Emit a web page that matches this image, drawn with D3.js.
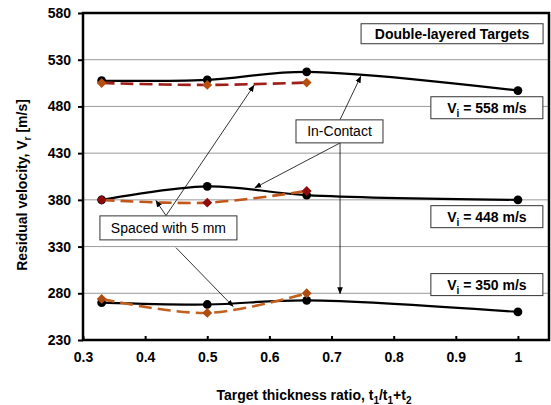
<!DOCTYPE html>
<html>
<head>
<meta charset="utf-8">
<script src="https://cdn.jsdelivr.net/npm/d3@7"></script>
<style>
  body { margin: 0; background: #fff; }
  svg text { font-family: Arial, "Liberation Sans", sans-serif; }
  .tick-label { font-size: 14px; font-weight: bold; }
  .title { font-size: 14px; font-weight: bold; }
  .grid line { stroke: #9a9a9a; stroke-width: 1; }
  .note rect { fill: #fff; stroke: #333; stroke-width: 1; }
  .arrow { stroke: #000; stroke-width: 0.8; fill: none; }
</style>
</head>
<body>
<svg id="chart" width="551" height="405"></svg>
<script>
// thickness ratio t1/(t1+t2)
const ratios = [0.33, 0.5, 0.66, 1];
const ratiosSpaced = [0.33, 0.5, 0.66];

// residual velocity, in-contact targets
const contact558 = [507.5, 508.5, 517, 497];
const contact448 = [380, 394.5, 385, 380];
const contact350 = [270, 268, 272.5, 260];

// residual velocity, spaced with 5 mm
const spaced558 = [505, 503, 505.5];
const spaced448 = [380, 377, 389.5];
const spaced350 = [274, 259, 280];

const xTicks = [0.3, 0.4, 0.5, 0.6, 0.7, 0.8, 0.9, 1];
const yTicks = [230, 280, 330, 380, 430, 480, 530, 580];

const margin = {top: 13, right: 2, bottom: 65, left: 83};
const width = 551 - margin.left - margin.right;
const height = 405 - margin.top - margin.bottom;

const svg = d3.select("#chart");
const chart = svg.append("g").attr("transform", "translate(" + margin.left + "," + margin.top + ")");

const x = d3.scaleLinear().domain([0.3, 1.05]).range([0, width]);
const y = d3.scaleLinear().domain([230, 580]).range([height, 0]);

// gridlines
chart.append("g").attr("class", "grid")
  .selectAll("line").data(yTicks.slice(1, -1)).join("line")
    .attr("x1", 0).attr("x2", width)
    .attr("y1", d => y(d)).attr("y2", d => y(d));

// axes
const yAxis = chart.append("g")
  .call(d3.axisLeft(y).tickValues(yTicks).tickSize(5).tickPadding(7));
yAxis.select(".domain").remove();
yAxis.selectAll("line").attr("stroke", "#000").attr("stroke-width", 2);
yAxis.selectAll("text").attr("class", "tick-label").attr("fill", "#000").style("font-size", null).style("font-family", null);

const xAxis = chart.append("g").attr("transform", "translate(0," + height + ")")
  .call(d3.axisBottom(x).tickValues(xTicks).tickSize(-4).tickPadding(12)
    .tickFormat(d => d === 1 ? "1" : d.toFixed(1)));
xAxis.select(".domain").remove();
xAxis.selectAll("line").attr("stroke", "#000").attr("stroke-width", 2);
xAxis.selectAll("text").attr("class", "tick-label").attr("fill", "#000");
svg.selectAll(".tick text").attr("font-size", null).attr("font-family", null);

// plot border
chart.append("rect")
  .attr("x", 0).attr("y", 0).attr("width", width).attr("height", height)
  .attr("fill", "none").attr("stroke", "#000").attr("stroke-width", 2.5);

const line = d3.line()
  .x(d => x(d[0])).y(d => y(d[1]))
  .curve(d3.curveCatmullRom.alpha(0.5));

const contactSeries = [contact558, contact448, contact350];
const spacedSeries = [
  {values: spaced558, line: "#9e1f1a", marker: "#b5500f"},
  {values: spaced448, line: "#c0561a", marker: "#8e0c0c"},
  {values: spaced350, line: "#c2601e", marker: "#b04c12"}
];

contactSeries.forEach(vals => {
  const pts = ratios.map((r, i) => [r, vals[i]]);
  chart.append("path").datum(pts)
    .attr("d", line).attr("fill", "none")
    .attr("stroke", "#000").attr("stroke-width", 2.2);
  chart.append("g").selectAll("circle").data(pts).join("circle")
    .attr("cx", d => x(d[0])).attr("cy", d => y(d[1]))
    .attr("r", 4.4).attr("fill", "#000");
});

const diamond = d3.symbol().type(d3.symbolDiamond2).size(62);
spacedSeries.forEach(s => {
  const pts = ratiosSpaced.map((r, i) => [r, s.values[i]]);
  chart.append("path").datum(pts)
    .attr("d", line).attr("fill", "none")
    .attr("stroke", s.line).attr("stroke-width", 2.6)
    .attr("stroke-dasharray", "13,6");
  chart.append("g").selectAll("path").data(pts).join("path")
    .attr("d", diamond)
    .attr("transform", d => "translate(" + x(d[0]) + "," + y(d[1]) + ")")
    .attr("fill", s.marker);
});

// arrows
svg.append("defs").append("marker")
  .attr("id", "head").attr("viewBox", "0 0 10 10")
  .attr("refX", 9).attr("refY", 5)
  .attr("markerWidth", 7).attr("markerHeight", 7)
  .attr("markerUnits", "userSpaceOnUse")
  .attr("orient", "auto")
  .append("path").attr("d", "M0,1 L10,5 L0,9 Z").attr("fill", "#000");

const arrows = [
  [[0.4336, 363.1], [0.5752, 502.5]],
  [[0.4336, 363.1], [0.4175, 379.1]],
  [[0.4497, 328.8], [0.5414, 266]],
  [[0.7137, 465.8], [0.747, 512.1]],
  [[0.7137, 440.9], [0.5768, 393]],
  [[0.7137, 440.9], [0.7137, 279.6]]
];
chart.append("g").selectAll("line").data(arrows).join("line")
  .attr("class", "arrow")
  .attr("x1", d => x(d[0][0])).attr("y1", d => y(d[0][1]))
  .attr("x2", d => x(d[1][0])).attr("y2", d => y(d[1][1]))
  .attr("marker-end", "url(#head)");

// text boxes: [label, x, y, boxWidth, boxHeight, bold]
const notes = [
  ["Double-layered Targets", 0.894, 557.8, 182, 20, true],
  ["Vi = 558 m/s", 0.95, 478.6, 112, 22, true],
  ["Vi = 448 m/s", 0.95, 362, 112, 22, true],
  ["Vi = 350 m/s", 0.95, 289.3, 112, 22, true],
  ["In-Contact", 0.7128, 453.3, 87, 23, false],
  ["Spaced with 5 mm", 0.4375, 350, 137, 24, false]
];
const note = chart.append("g").selectAll("g").data(notes).join("g")
  .attr("class", "note")
  .attr("transform", d => "translate(" + x(d[1]) + "," + y(d[2]) + ")");
note.append("rect")
  .attr("x", d => -d[3] / 2).attr("y", d => -d[4] / 2)
  .attr("width", d => d[3]).attr("height", d => d[4]);
note.each(function(d) {
  const t = d3.select(this).append("text")
    .attr("text-anchor", "middle").attr("y", 5)
    .style("font-size", "14px")
    .style("font-weight", d[5] ? "bold" : "normal");
  if (d[0].startsWith("Vi")) {
    t.append("tspan").text("V");
    t.append("tspan").text("i").attr("dy", 4).style("font-size", "10px");
    t.append("tspan").text(d[0].slice(2)).attr("dy", -4);
  } else {
    t.text(d[0]);
  }
});

// axis titles
const yt = svg.append("text").attr("class", "title")
  .attr("transform", "translate(27,185) rotate(-90)")
  .attr("text-anchor", "middle");
yt.append("tspan").text("Residual velocity, V");
yt.append("tspan").text("r").attr("dy", 4).style("font-size", "10px");
yt.append("tspan").text(" [m/s]").attr("dy", -4);

const xt = svg.append("text").attr("class", "title")
  .attr("x", 314).attr("y", 400).attr("text-anchor", "middle");
[["Target thickness ratio, t", 0], ["1", 4], ["/t", -4], ["1", 4], ["+t", -4], ["2", 4]]
  .forEach((p, i) => {
    const ts = xt.append("tspan").text(p[0]).attr("dy", p[1]);
    if (i % 2 === 1) ts.style("font-size", "10px");
  });
</script>
</body>
</html>
